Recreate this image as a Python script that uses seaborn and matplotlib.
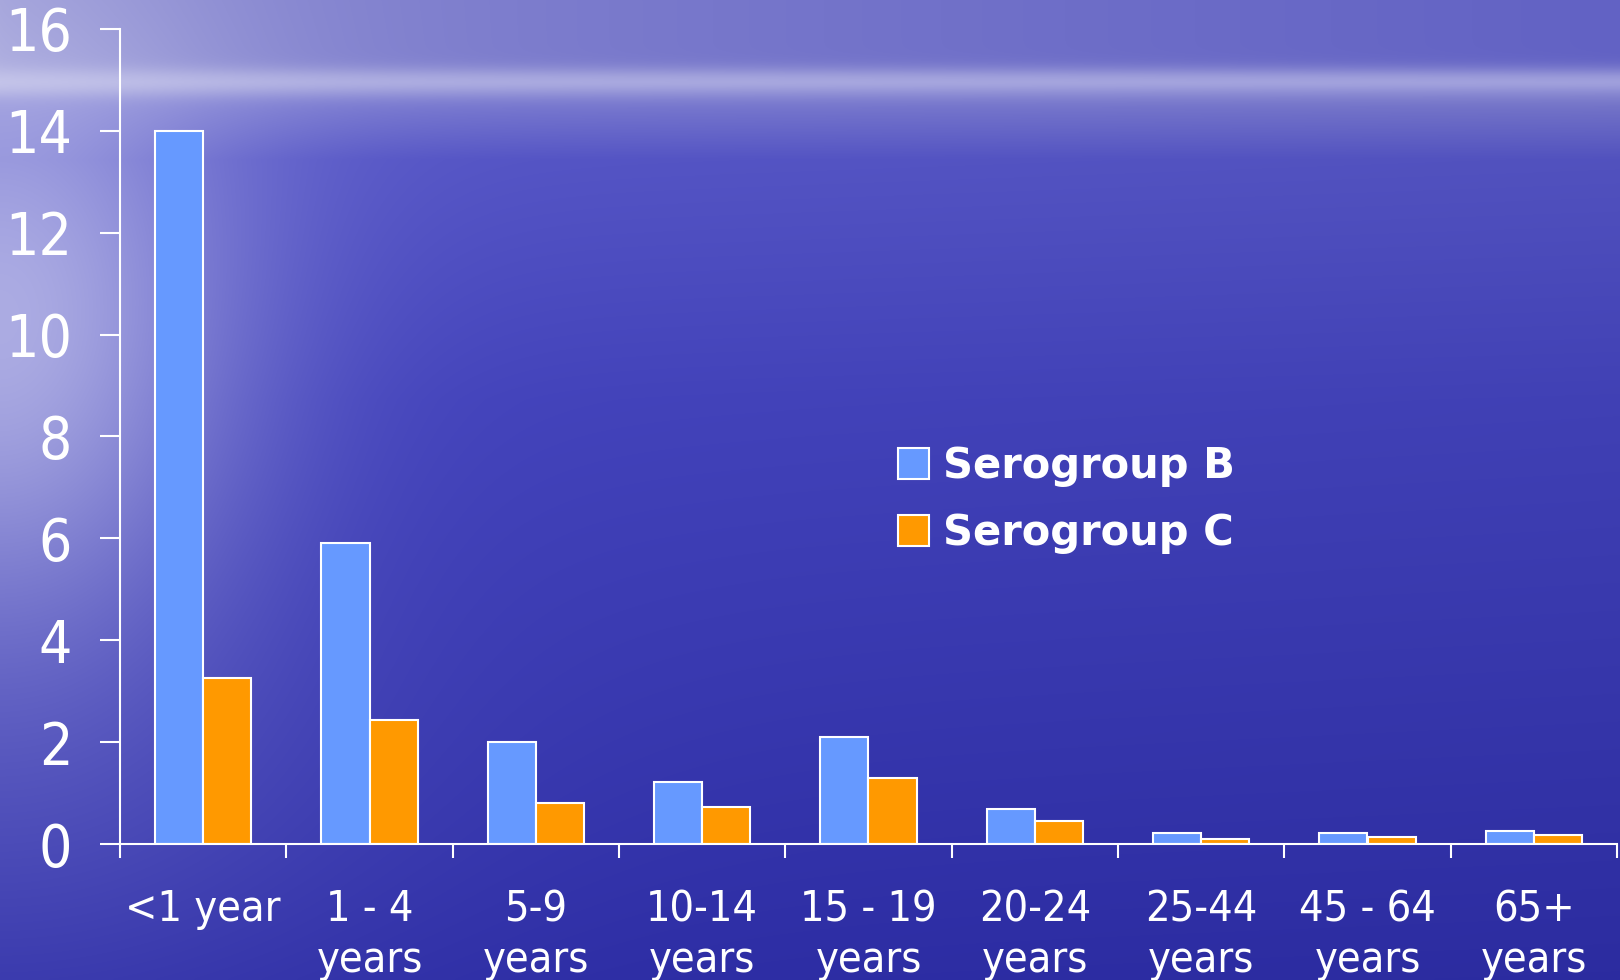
import numpy as np
import pandas as pd
import matplotlib
matplotlib.use("Agg")
import matplotlib.pyplot as plt
import seaborn as sns

# Incidence by age group for the two serogroups
age_groups = ["<1 year", "1 - 4\nyears", "5-9\nyears", "10-14\nyears",
              "15 - 19\nyears", "20-24\nyears", "25-44\nyears",
              "45 - 64\nyears", "65+\nyears"]
serogroup_b = [14.0, 5.9, 2.0, 1.22, 2.1, 0.68, 0.22, 0.22, 0.26]
serogroup_c = [3.26, 2.44, 0.8, 0.72, 1.3, 0.45, 0.1, 0.14, 0.18]
series_names = ["Serogroup B", "Serogroup C"]
series_colors = ["#6699FF", "#FF9900"]
y_ticks = [0, 2, 4, 6, 8, 10, 12, 14, 16]

df = pd.DataFrame({
    "age": age_groups * 2,
    "rate": serogroup_b + serogroup_c,
    "series": [series_names[0]] * len(age_groups) + [series_names[1]] * len(age_groups),
})

sns.set_theme(style="ticks")
plt.rcParams["font.family"] = ["DejaVu Sans"]
plt.rcParams["font.stretch"] = "condensed"

W, H = 1620, 980
fig = plt.figure(figsize=(W / 100, H / 100), dpi=100)

# Sea-and-sky backdrop built from smooth gradients
yy = np.arange(H)[:, None, None].astype(float)
xx = np.arange(W)[None, :, None].astype(float)
tx = xx / W
sky_left = np.array([152, 152, 214.0])
sky_right = np.array([98, 98, 196.0])
sky = sky_left + (sky_right - sky_left) * tx ** 0.6

# sea colour keyed to depth below the horizon
depth_pts = np.array([95, 160, 400, 980.0])
depth_r = np.array([128, 86, 68, 46.0])
depth_b = np.array([212, 200, 190, 168.0])
d = yy[:, 0, 0]
r = np.interp(d, depth_pts, depth_r)
b = np.interp(d, depth_pts, depth_b)
sea = np.stack([r, r, b], axis=-1)[:, None, :]
sea = sea * (1 - 0.05 * tx)
s = 1 / (1 + np.exp(-(yy - 93) / 4))
img = sky * (1 - s) + sea * s
band = 0.6 * np.exp(-((yy - 82) / 14) ** 2)
img = img + (np.array([200, 200, 236.0]) - img) * band
glare = 0.66 * np.exp(-(xx / 240) ** 2 - ((yy - 330) / 320) ** 2)
img = img + (np.array([222, 222, 244.0]) - img) * glare
low_glow = 0.12 * np.exp(-(xx / 420) ** 2 - ((yy - 800) / 260) ** 2)
img = img + (np.array([200, 200, 240.0]) - img) * low_glow
img = np.clip(img, 0, 255).astype(np.uint8)

bg = fig.add_axes([0, 0, 1, 1], zorder=0)
bg.imshow(img, aspect="auto", interpolation="bilinear")
bg.axis("off")

ax = fig.add_axes([120 / W, 1 - 844 / H, (1617 - 120) / W, (844 - 29) / H], zorder=1)
ax.patch.set_alpha(0)

sns.barplot(data=df, x="age", y="rate", hue="series", palette=series_colors,
            width=0.58, gap=0, saturation=1, edgecolor="white", linewidth=1.5,
            ax=ax)

ax.set_xlim(-0.5, len(age_groups) - 0.5)
ax.set_ylim(0, 16)
ax.set_yticks(y_ticks)
ax.set_xticks(range(len(age_groups)))
ax.set_xticklabels(age_groups)
ax.set_xticks(np.arange(-0.5, len(age_groups), 1), minor=True)
ax.set_xlabel("")
ax.set_ylabel("")

ax.tick_params(axis="x", which="major", length=0, pad=32, labelsize=31,
               labelcolor="white")
ax.tick_params(axis="x", which="minor", length=10, width=1.5, color="white",
               direction="out")
ax.tick_params(axis="y", length=14.4, width=1.5, color="white", pad=20,
               labelsize=42, labelcolor="white", direction="out")
for lbl in ax.get_xticklabels():
    lbl.set_linespacing(1.25)

for side in ["top", "right"]:
    ax.spines[side].set_visible(False)
for side in ["left", "bottom"]:
    ax.spines[side].set_color("white")
    ax.spines[side].set_linewidth(1.5)

handles, labels = ax.get_legend_handles_labels()
ax.get_legend().remove()
leg = ax.legend(handles, labels, loc="upper left",
                bbox_to_anchor=(898 / W, 1 - 445 / H),
                bbox_transform=fig.transFigure, frameon=False,
                borderpad=0, borderaxespad=0, handlelength=0.74,
                handleheight=0.74, handletextpad=0.34, labelspacing=0.6,
                prop={"family": "DejaVu Sans", "size": 30, "weight": "bold",
                      "stretch": "normal"})
for t in leg.get_texts():
    t.set_color("white")

fig.savefig("out.png", dpi=100)
